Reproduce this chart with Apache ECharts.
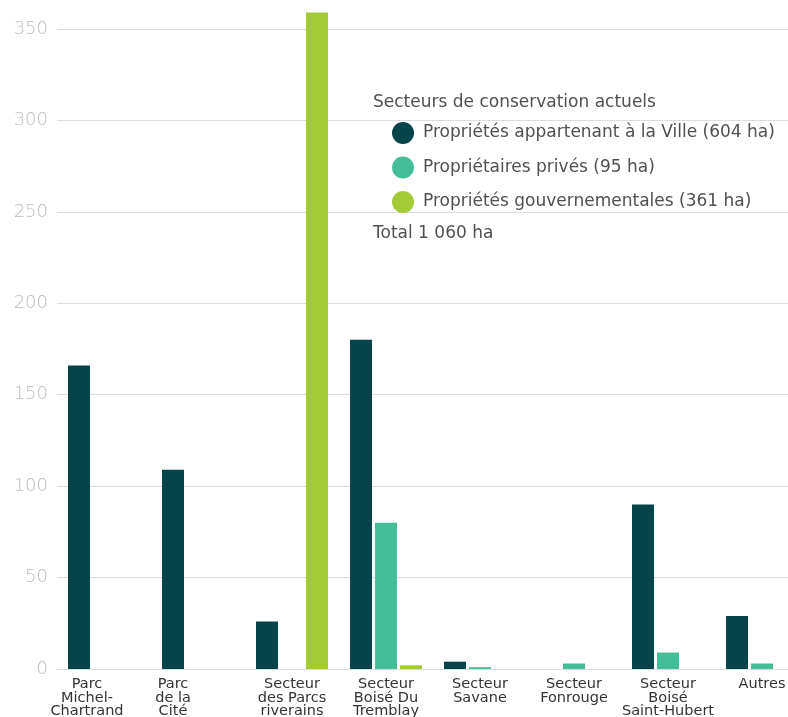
<!DOCTYPE html>
<html><head><meta charset="utf-8">
<script src="https://cdn.jsdelivr.net/npm/echarts@6/dist/echarts.min.js"></script>
<style>html,body{margin:0;padding:0;background:#fff}#c{width:788px;height:717px}</style>
</head><body><div id="c"></div>
<script>
const categories = ["Parc\nMichel-\nChartrand","Parc\nde la\nCité","Secteur\ndes Parcs\nriverains","Secteur\nBoisé Du\nTremblay","Secteur\nSavane","Secteur\nFonrouge","Secteur\nBoisé\nSaint-Hubert","Autres"];
const labelShift = [17, 25, 0, 0, 0, 0, 0, 0];
const villeValues = [166, 109, 26, 180, 4, null, 90, 29];
const priveValues = [null, null, null, 80, 1, 3, 9, 3];
const gouvValues = [null, null, 359, 2, null, null, null, null];
const seriesNames = ["Propriétés appartenant à la Ville (604 ha)","Propriétaires privés (95 ha)","Propriétés gouvernementales (361 ha)"];
const colors = ["#064449","#44be98","#a5ca37"];
const legendTitle = "Secteurs de conservation actuels";
const totalText = "Total 1 060 ha";

const chart = echarts.init(document.getElementById('c'));
const font = "DejaVu Sans";
const mk = (name, data, color) => ({
  name, type: 'bar', data, barWidth: 22, barGap: '13.6%', clip: false,
  itemStyle: {color}, emphasis: {disabled: true}
});
chart.setOption({
  animation: false,
  grid: {left: 57, top: 29, width: 752, bottom: 48, containLabel: false, outerBoundsMode: 'none'},
  legend: {
    orient: 'vertical', left: 392, top: 122, padding: 0,
    itemWidth: 22, itemHeight: 22, itemGap: 12.5, icon: 'circle',
    textStyle: {fontFamily: font, fontSize: 17, color: '#505050', padding: [0,0,0,4]},
    data: seriesNames
  },
  graphic: [
    {type: 'text', left: 373, top: 94, style: {text: legendTitle, font: '500 17px "DejaVu Sans"', fill: '#505050'}},
    {type: 'text', left: 373, top: 225, style: {text: totalText, font: '500 17px "DejaVu Sans"', fill: '#505050'}}
  ],
  xAxis: {
    type: 'category',
    data: categories.map((c, i) => ({value: c, textStyle: {padding: [0, labelShift[i]*2, 0, 0]}})),
    axisLine: {lineStyle: {color: '#dcdcdc', width: 1}},
    axisTick: {show: false},
    axisLabel: {interval: 0, margin: 9, fontFamily: font, fontSize: 14.5, lineHeight: 13.3, color: '#333'}
  },
  yAxis: {
    type: 'value', min: 0, max: 350, interval: 50,
    axisLine: {show: false}, axisTick: {show: false},
    splitLine: {lineStyle: {color: '#dcdcdc', width: 1}},
    axisLabel: {margin: 9, fontFamily: font, fontWeight: 200, fontSize: 18, color: '#bdbdbd'}
  },
  series: [mk(seriesNames[0], villeValues, colors[0]), mk(seriesNames[1], priveValues, colors[1]), mk(seriesNames[2], gouvValues, colors[2])]
});
</script></body></html>
